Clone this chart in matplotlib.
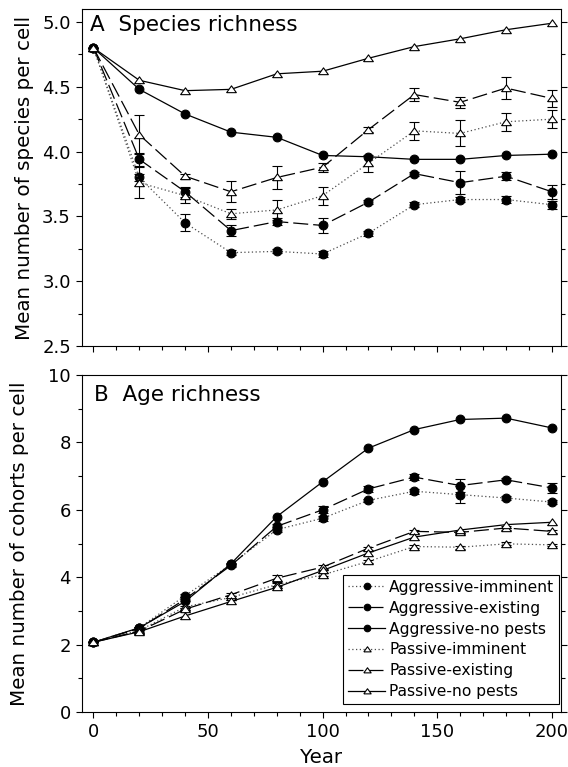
#!/usr/bin/env python3
# -*- coding: utf-8 -*-
import numpy as np
import matplotlib
matplotlib.use('Agg')
import matplotlib.pyplot as plt
from matplotlib.ticker import MultipleLocator

#%% data

years = [0, 20, 40, 60, 80, 100, 120, 140, 160, 180, 200]

labels = ['Aggressive-imminent', 'Aggressive-existing', 'Aggressive-no pests',
          'Passive-imminent', 'Passive-existing', 'Passive-no pests']

# A: mean number of species per cell
sp_aggr_imm = [4.80, 3.80, 3.45, 3.22, 3.23, 3.21, 3.37, 3.59, 3.63, 3.63, 3.59]
sp_aggr_exi = [4.80, 3.94, 3.69, 3.39, 3.46, 3.43, 3.61, 3.83, 3.76, 3.81, 3.69]
sp_aggr_non = [4.80, 4.48, 4.29, 4.15, 4.11, 3.97, 3.96, 3.94, 3.94, 3.97, 3.98]
sp_pass_imm = [4.80, 3.76, 3.66, 3.52, 3.55, 3.66, 3.91, 4.16, 4.14, 4.23, 4.25]
sp_pass_exi = [4.80, 4.13, 3.81, 3.69, 3.80, 3.88, 4.17, 4.44, 4.38, 4.49, 4.41]
sp_pass_non = [4.80, 4.55, 4.47, 4.48, 4.60, 4.62, 4.72, 4.81, 4.87, 4.94, 4.99]

sp_err_aggr_imm = [0, 0.03, 0.065, 0.02, 0.015, 0.02, 0.02, 0.02, 0.02, 0.025, 0.03]
sp_err_aggr_exi = [0, 0.05, 0.04, 0.045, 0.025, 0.06, 0.015, 0.015, 0.09, 0.03, 0.055]
sp_err_pass_imm = [0, 0.12, 0.06, 0.04, 0.075, 0.07, 0.065, 0.07, 0.10, 0.07, 0.07]
sp_err_pass_exi = [0, 0.15, 0.02, 0.08, 0.085, 0.035, 0.02, 0.05, 0.04, 0.085, 0.065]

# B: mean number of cohorts per cell
ag_aggr_imm = [2.07, 2.50, 3.45, 4.38, 5.41, 5.75, 6.28, 6.55, 6.45, 6.35, 6.23]
ag_aggr_exi = [2.07, 2.48, 3.35, 4.35, 5.51, 6.00, 6.62, 6.97, 6.72, 6.89, 6.65]
ag_aggr_non = [2.07, 2.50, 3.28, 4.40, 5.80, 6.83, 7.83, 8.38, 8.68, 8.72, 8.43]
ag_pass_imm = [2.07, 2.42, 3.12, 3.40, 3.78, 4.07, 4.47, 4.91, 4.89, 4.99, 4.96]
ag_pass_exi = [2.07, 2.40, 3.05, 3.48, 3.97, 4.30, 4.86, 5.36, 5.33, 5.46, 5.36]
ag_pass_non = [2.07, 2.38, 2.85, 3.28, 3.70, 4.20, 4.72, 5.19, 5.40, 5.56, 5.63]

ag_err_aggr_imm = [0, 0.03, 0.05, 0.05, 0.08, 0.08, 0.05, 0.08, 0.25, 0.05, 0.05]
ag_err_aggr_exi = [0, 0.03, 0.05, 0.05, 0.06, 0.10, 0.08, 0.10, 0.20, 0.05, 0.15]
ag_err_pass_imm = [0, 0.02, 0.03, 0.03, 0.04, 0.04, 0.04, 0.04, 0.04, 0.04, 0.04]
ag_err_pass_exi = [0, 0.02, 0.04, 0.05, 0.10, 0.05, 0.05, 0.05, 0.04, 0.05, 0.05]

#%% styles

DOT = (0, (1, 2))
DASH = (0, (12, 4))
# a slightly flattened up-triangle
TRI = [(-1, -0.65), (1, -0.65), (0, 0.75), (-1, -0.65)]

styles = [
    dict(ls=DOT, marker='o', mfc='k', color='0.3'),
    dict(ls=DASH, marker='o', mfc='k', color='k'),
    dict(ls='-', marker='o', mfc='k', color='k'),
    dict(ls=DOT, marker=TRI, mfc='w', color='0.3'),
    dict(ls=DASH, marker=TRI, mfc='w', color='k'),
    dict(ls='-', marker=TRI, mfc='w', color='k'),
]


def draw_panel(ax, series, errs):
    # error bars first so the markers sit on top
    for vals, err in zip(series, errs):
        if err is None:
            continue
        ax.errorbar(years, vals, yerr=err, fmt='none', ecolor='k',
                    elinewidth=0.8, capsize=3.5, capthick=0.8, zorder=2)
    for vals, st, lab in zip(series, styles, labels):
        is_circle = isinstance(st['marker'], str)
        ax.plot(years, vals, linestyle=st['ls'], color=st['color'], lw=0.9,
                marker=st['marker'], mfc=st['mfc'], mec='k', mew=0.8,
                ms=6.3 if is_circle else 7, label=lab, zorder=3)


def style_axis(ax):
    ax.set_xlim(-5, 204)
    ax.xaxis.set_major_locator(MultipleLocator(50))
    ax.xaxis.set_minor_locator(MultipleLocator(10))
    ax.tick_params(which='both', direction='out', right=True, top=False,
                   labelsize=13, width=0.8)
    ax.tick_params(which='major', length=4.5)
    ax.tick_params(which='minor', length=3)
    for sp in ax.spines.values():
        sp.set_linewidth(0.8)


#%% figure

fig = plt.figure(figsize=(5.68, 7.67), dpi=100)
axA = fig.add_axes([82 / 568, 1 - 346 / 767, 479 / 568, 337 / 767])
axB = fig.add_axes([82 / 568, 1 - 712 / 767, 479 / 568, 337 / 767])

draw_panel(axA,
           [sp_aggr_imm, sp_aggr_exi, sp_aggr_non, sp_pass_imm, sp_pass_exi, sp_pass_non],
           [sp_err_aggr_imm, sp_err_aggr_exi, None, sp_err_pass_imm, sp_err_pass_exi, None])
draw_panel(axB,
           [ag_aggr_imm, ag_aggr_exi, ag_aggr_non, ag_pass_imm, ag_pass_exi, ag_pass_non],
           [ag_err_aggr_imm, ag_err_aggr_exi, None, ag_err_pass_imm, ag_err_pass_exi, None])

style_axis(axA)
axA.set_ylim(2.5, 5.1)
axA.yaxis.set_major_locator(MultipleLocator(0.5))
axA.yaxis.set_minor_locator(MultipleLocator(0.25))
axA.yaxis.set_major_formatter(plt.FormatStrFormatter('%.1f'))
axA.tick_params(labelbottom=False)
axA.set_ylabel('Mean number of species per cell', fontsize=14.3, labelpad=6)
axA.text(0.017, 0.953, 'A  Species richness', transform=axA.transAxes,
         fontsize=15.5, va='center', ha='left')

style_axis(axB)
axB.set_ylim(0, 10)
axB.yaxis.set_major_locator(MultipleLocator(2))
axB.yaxis.set_minor_locator(MultipleLocator(1))
axB.set_ylabel('Mean number of cohorts per cell', fontsize=14.3, labelpad=14)
axB.set_xlabel('Year', fontsize=14.3, labelpad=5)
axB.text(0.025, 0.94, 'B  Age richness', transform=axB.transAxes,
         fontsize=15.5, va='center', ha='left')

leg = axB.legend(loc='lower right', bbox_to_anchor=(0.996, 0.024),
                 borderaxespad=0, fontsize=11.2, markerscale=0.75,
                 handlelength=2.4, handletextpad=0.25, labelspacing=0.38,
                 borderpad=0.3, fancybox=False, framealpha=1)
leg.get_frame().set_edgecolor('k')
leg.get_frame().set_linewidth(0.8)

plt.savefig('out.png', dpi=100)
